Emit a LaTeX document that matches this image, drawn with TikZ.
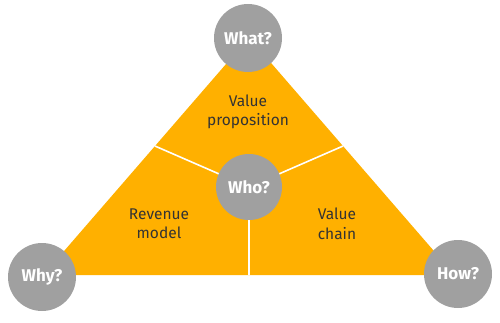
\documentclass[tikz,border=0pt]{standalone}
\usepackage{fontspec}
\setmainfont{Fira Sans}
\usetikzlibrary{calc}
\definecolor{tri}{HTML}{FFB000}
\definecolor{circ}{HTML}{A0A0A0}
\definecolor{txt}{HTML}{333333}
\begin{document}
\begin{tikzpicture}[x=1pt,y=1pt,
  qcircle/.style={circle,fill=circ,minimum size=68pt,inner sep=0pt,text=white,font=\fontsize{17}{19}\selectfont\bfseries},
  region/.style={align=center,text=txt,font=\fontsize{15.5}{19.5}\selectfont},
  divider/.style={white,line width=1.6pt}]
\useasboundingbox (0,0) rectangle (500,322);
\coordinate (A) at (249,284.5);
\coordinate (L) at (43.3,47);
\coordinate (R) at (454.7,47);
\fill[tri] (A) -- (L) -- (R) -- cycle;
\coordinate (Y) at (249,135);
\coordinate (pl) at ($(L)!0.543!(A)$);
\coordinate (pr) at ($(R)!0.543!(A)$);
\coordinate (pb) at (249,47);
\draw[divider] (Y) -- (pl);
\draw[divider] (Y) -- (pr);
\draw[divider] (Y) -- (pb);
\node[region] (vp) at (248,210) {Value\\proposition};
\node[region] (rm) at (159,98) {Revenue\\model};
\node[region] (vc) at (337,98) {Value\\chain};
\node[qcircle] (what) at (248,284) {What?};
\node[qcircle] (why) at (42,45) {Why?};
\node[qcircle] (how) at (458,48) {How?};
\node[qcircle,minimum size=66pt] (who) at (Y) {Who?};
\end{tikzpicture}
\end{document}
